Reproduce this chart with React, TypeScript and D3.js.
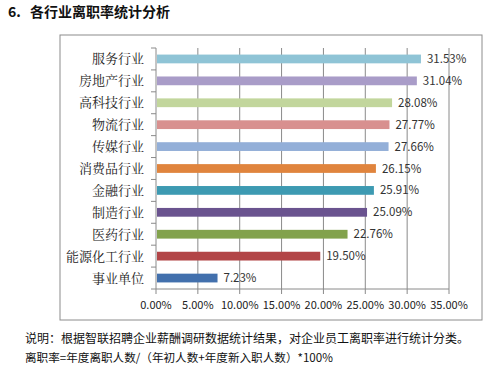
import React from "react";
import * as d3 from "d3";

const categories = ["服务行业", "房地产行业", "高科技行业", "物流行业", "传媒行业", "消费品行业", "金融行业", "制造行业", "医药行业", "能源化工行业", "事业单位"];
const values = [31.53, 31.04, 28.08, 27.77, 27.66, 26.15, 25.91, 25.09, 22.76, 19.5, 7.23];
const colors = ["#8fc4d6", "#a99cc8", "#c2d69c", "#d8908f", "#93afd8", "#e0843d", "#3d9ab2", "#6a538f", "#82a24c", "#b24547", "#4270ad"];
const xTicks = [0, 5, 10, 15, 20, 25, 30, 35];
const titleNum = "6.";
const title = "各行业离职率统计分析";
const note1 = "说明：根据智联招聘企业薪酬调研数据统计结果，对企业员工离职率进行统计分类。";
const note2 = "离职率=年度离职人数/（年初人数+年度新入职人数）*100%";

export default function App() {
  const W = 489, H = 370;
  const left = 156, right = 449, top = 48, bottom = 289;
  const x = d3.scaleLinear().domain([0, 35]).range([left, right]);
  const y = d3.scaleBand<string>().domain(categories).range([top, bottom]).paddingInner(0.6).paddingOuter(0.3);
  const yb = d3.scaleBand<string>().domain(categories).range([top, bottom]);
  const sans = "'Microsoft YaHei','Noto Sans CJK SC','Liberation Sans',sans-serif";
  const serif = "'SimSun','Noto Serif CJK SC','Noto Sans CJK SC',serif";
  return (
    <svg width={W} height={H} style={{ position: "absolute", left: 0, top: 0, background: "#fff" }}>
      <text x={8} y={17} fontSize={14} fontWeight="bold" fontFamily={sans} fill="#111">{titleNum}</text>
      <text x={30} y={17} fontSize={14} fontWeight="bold" fontFamily={sans} fill="#111">{title}</text>
      <rect x={60} y={35} width={422} height={285} fill="#fff" stroke="#8c8c8c" strokeWidth={1} />
      {xTicks.map((t) => (
        <g key={t}>
          {t > 0 && <line x1={x(t)} x2={x(t)} y1={top} y2={bottom} stroke="#8a8a8a" strokeWidth={1} />}
          <line x1={x(t)} x2={x(t)} y1={bottom} y2={bottom + 5} stroke="#8a8a8a" />
          <text x={x(t)} y={bottom + 20} fontSize={11} textAnchor="middle" fontFamily={sans} fill="#222">{t.toFixed(2) + "%"}</text>
        </g>
      ))}
      <line x1={left} x2={right} y1={bottom} y2={bottom} stroke="#8a8a8a" />
      <line x1={left} x2={left} y1={top} y2={bottom} stroke="#8a8a8a" />
      {categories.map((c) => (
        <line key={"t" + c} x1={left - 5} x2={left} y1={yb(c)!} y2={yb(c)!} stroke="#8a8a8a" />
      ))}
      <line x1={left - 5} x2={left} y1={bottom} y2={bottom} stroke="#8a8a8a" />
      {categories.map((c, i) => (
        <g key={c}>
          <rect x={x(0) + 1} y={y(c)!} width={x(values[i]) - x(0)} height={y.bandwidth()} fill={colors[i]} />
          <text x={left - 12} y={yb(c)! + yb.bandwidth() / 2 + 4.5} fontSize={13} textAnchor="end" fontFamily={serif} fill="#222">{c}</text>
          <text x={x(values[i]) + 7} y={y(c)! + y.bandwidth() / 2 + 4} fontSize={11.5} fontFamily={sans} fill="#333">{values[i].toFixed(2) + "%"}</text>
        </g>
      ))}
      <text x={25} y={343} fontSize={12} fontFamily={sans} fill="#111">{note1}</text>
      <text x={25} y={362} fontSize={11.6} fontFamily={sans} fill="#111">{note2}</text>
    </svg>
  );
}
